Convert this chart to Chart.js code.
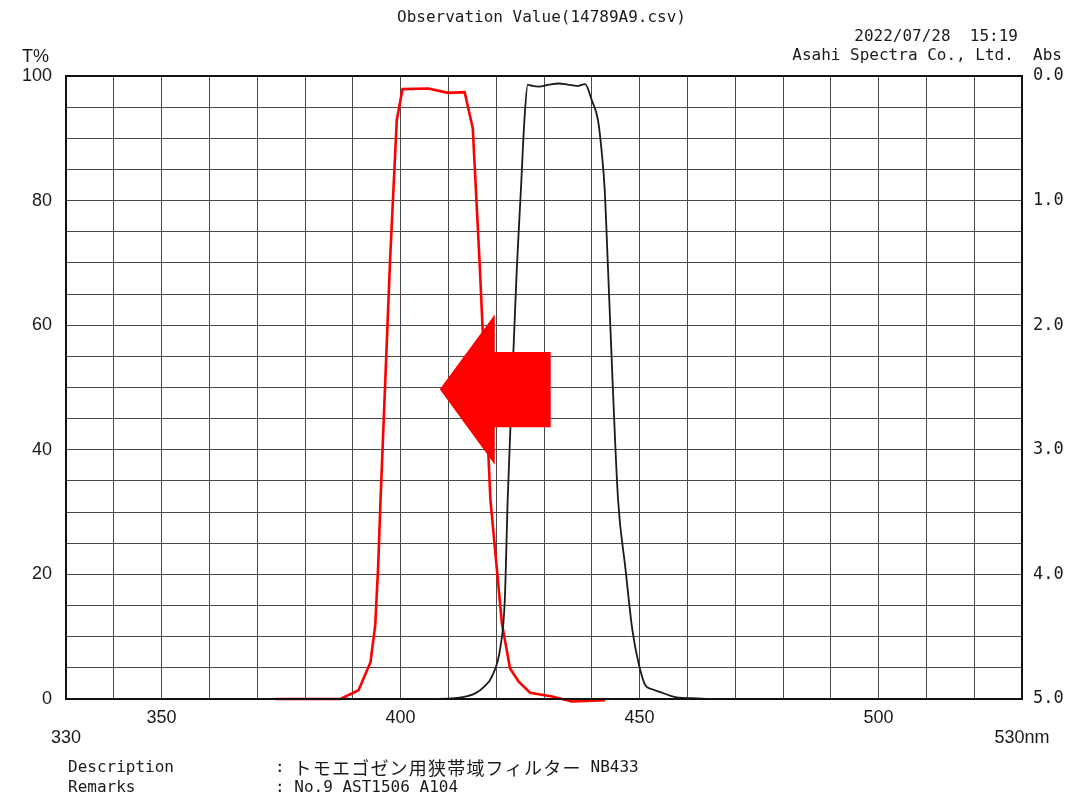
<!DOCTYPE html>
<html>
<head>
<meta charset="utf-8">
<title>Observation Value</title>
<script src="https://cdn.jsdelivr.net/npm/chart.js@4.4.0/dist/chart.umd.min.js"></script>
<style>
  html, body { margin: 0; padding: 0; background: #fff; }
  #wrap { position: relative; width: 1083px; height: 798px; }
</style>
</head>
<body>
<div id="wrap"><canvas id="chart"></canvas></div>
<script>
const MONO = '"DejaVu Sans Mono", "Liberation Mono", "Noto Sans CJK JP", monospace';
const SANS = '"Liberation Sans", Arial, sans-serif';
const CJK = '"Noto Sans CJK JP", sans-serif';

// black curve: measured transmittance (nm / T%)
const measuredNm = [330, 400, 410.7, 413, 415.6, 417.5, 419.1, 420.9, 421.8, 422.4, 423.3, 424.3, 425.2, 425.9, 426.6, 427.6, 428.9, 431, 433.1, 435, 436.9, 438.6, 440.0, 441.3, 442.1, 442.7, 443.4, 444.4, 445.5, 447.0, 448.5, 449.8, 451.2, 452.5, 454, 457.5, 462, 466, 530];
const measuredT  = [0, 0, 0.1, 0.3, 0.9, 2.0, 3.6, 8.4, 15.9, 31.9, 50, 68.9, 82.2, 92.9, 98.6, 98.4, 98.3, 98.6, 98.8, 98.6, 98.4, 98.7, 96.1, 92.9, 87.6, 81.7, 68.9, 50, 31.9, 21.2, 11, 5.7, 2.2, 1.6, 1.2, 0.3, 0.1, 0, 0];

// red curve: filter NB433 overlay (nm / T%)
const filterNm = [373.8, 387.4, 391.2, 393.7, 394.7, 395.3, 395.8, 397.8, 399.2, 400.4, 405.8, 409.9, 413.4, 415.1, 416.5, 418.8, 421.2, 422.9, 424.7, 427.1, 431.7, 435.8, 442.8];
const filterT  = [0, 0, 1.4, 5.9, 11.9, 21.2, 31.9, 70.5, 92.9, 97.9, 98.0, 97.3, 97.4, 91.6, 70.5, 31.9, 12.1, 4.9, 2.8, 1.0, 0.4, -0.4, -0.2];

// tick labels
const xTickLabels = { 330: ['', '330'], 350: '350', 400: '400', 450: '450', 500: '500', 530: ['', '530nm'] };
const tLabelStep = 20;
const absTicks = [0, 1, 2, 3, 4, 5];

// big arrow, in data units (nm, T%)
const arrowShape = [[408.2, 49.7], [419.7, 61.7], [419.7, 55.7], [431.4, 55.7], [431.4, 43.6], [419.7, 43.6], [419.7, 37.6]];

const titleText = 'Observation Value(14789A9.csv)';
const dateText = '2022/07/28  15:19';
const companyText = 'Asahi Spectra Co., Ltd.  Abs';
const descText = 'トモエゴゼン用狭帯域フィルター NB433';
const remarksText = 'No.9 AST1506 A104';

const toPoints = (xs, ys) => xs.map((x, i) => ({ x: x, y: ys[i] }));

// draw a string on a fixed half/full width grid, like the printer font
function drawCells(ctx, str, x, y, cell) {
    ctx.textAlign = 'center';
    for (const ch of str) {
        const wide = ch.charCodeAt(0) > 0x2000;
        const w = wide ? cell * 2 : cell;
        ctx.font = wide ? '18px ' + CJK : '16px ' + MONO;
        ctx.fillText(ch, x + w / 2, y);
        x += w;
    }
    ctx.font = '16px ' + MONO;
    ctx.textAlign = 'left';
}

const arrowPlugin = {
    id: 'arrow',
    afterDatasetsDraw(chart) {
        const { ctx, scales } = chart;
        ctx.save();
        ctx.fillStyle = '#ff0000';
        ctx.beginPath();
        arrowShape.forEach((p, i) => {
            const px = scales.x.getPixelForValue(p[0]);
            const py = scales.y.getPixelForValue(p[1]);
            if (i === 0) ctx.moveTo(px, py); else ctx.lineTo(px, py);
        });
        ctx.closePath();
        ctx.fill();
        ctx.restore();
    }
};

const textPlugin = {
    id: 'sheetText',
    afterDraw(chart) {
        const ctx = chart.ctx;
        const area = chart.chartArea;
        ctx.save();
        ctx.fillStyle = '#1a1a1a';
        ctx.font = '16px ' + MONO;
        ctx.textBaseline = 'middle';

        // header
        ctx.textAlign = 'right';
        ctx.fillText(dateText, area.right - 4, 37);
        ctx.fillText(companyText, 1062, 56);
        ctx.textAlign = 'left';
        ctx.font = '18px ' + SANS;
        ctx.fillText('T%', 22, 57);
        ctx.font = '16px ' + MONO;

        // footer
        ctx.fillText('Description', 68, 768);
        ctx.fillText(':', 275, 768);
        drawCells(ctx, descText, 293, 768, 9.6);
        ctx.fillText('Remarks', 68, 788);
        ctx.fillText(': ' + remarksText, 275, 788);

        // frame
        ctx.strokeStyle = '#111';
        ctx.lineWidth = 2;
        ctx.strokeRect(area.left, area.top, area.right - area.left, area.bottom - area.top);
        ctx.restore();
    }
};

new Chart(document.getElementById('chart'), {
    type: 'line',
    data: {
        datasets: [
            {
                label: 'Measured',
                data: toPoints(measuredNm, measuredT),
                borderColor: '#1a1a1a',
                borderWidth: 1.8,
                pointRadius: 0,
                cubicInterpolationMode: 'monotone',
                fill: false
            },
            {
                label: 'NB433',
                data: toPoints(filterNm, filterT),
                borderColor: '#ff0000',
                borderWidth: 2.6,
                pointRadius: 0,
                tension: 0,
                clip: false,
                fill: false
            }
        ]
    },
    options: {
        responsive: true,
        maintainAspectRatio: false,
        animation: false,
        layout: { padding: 0 },
        plugins: {
            legend: { display: false },
            tooltip: { enabled: false },
            title: {
                display: true,
                text: titleText,
                color: '#1a1a1a',
                font: { family: MONO, size: 16, weight: 'normal', lineHeight: 1.2 },
                padding: { top: 8, bottom: 48.8 }
            }
        },
        scales: {
            x: {
                type: 'linear',
                min: 330,
                max: 530,
                afterFit: s => { s.height = 99; },
                ticks: {
                    stepSize: 10,
                    autoSkip: false,
                    maxRotation: 0,
                    minRotation: 0,
                    padding: 9,
                    color: '#1a1a1a',
                    font: { family: SANS, size: 18, lineHeight: 1.1 },
                    callback: v => xTickLabels[v] ?? ''
                },
                grid: { color: '#4a4a4a', lineWidth: 1, drawTicks: false },
                border: { display: true, color: '#111', width: 2 }
            },
            y: {
                min: 0,
                max: 100,
                position: 'left',
                afterFit: s => { s.width = 66; },
                ticks: {
                    stepSize: 5,
                    autoSkip: false,
                    padding: 14,
                    color: '#1a1a1a',
                    font: { family: SANS, size: 18 },
                    callback: v => (v % tLabelStep === 0 ? String(v) : '')
                },
                grid: {
                    color: '#4a4a4a',
                    lineWidth: c => (c.tick && c.tick.value === 100 ? 2 : 1),
                    drawTicks: false
                },
                border: { display: true, color: '#111', width: 2 }
            },
            y2: {
                min: 0,
                max: 5,
                reverse: true,
                position: 'right',
                afterFit: s => { s.width = 61; },
                afterBuildTicks: s => { s.ticks = absTicks.map(v => ({ value: v })); },
                ticks: {
                    padding: 11,
                    color: '#1a1a1a',
                    font: { family: MONO, size: 17 },
                    callback: v => Number(v).toFixed(1)
                },
                grid: { display: false, drawTicks: false },
                border: { display: true, color: '#111', width: 2 }
            }
        }
    },
    plugins: [arrowPlugin, textPlugin]
});
</script>
</body>
</html>
